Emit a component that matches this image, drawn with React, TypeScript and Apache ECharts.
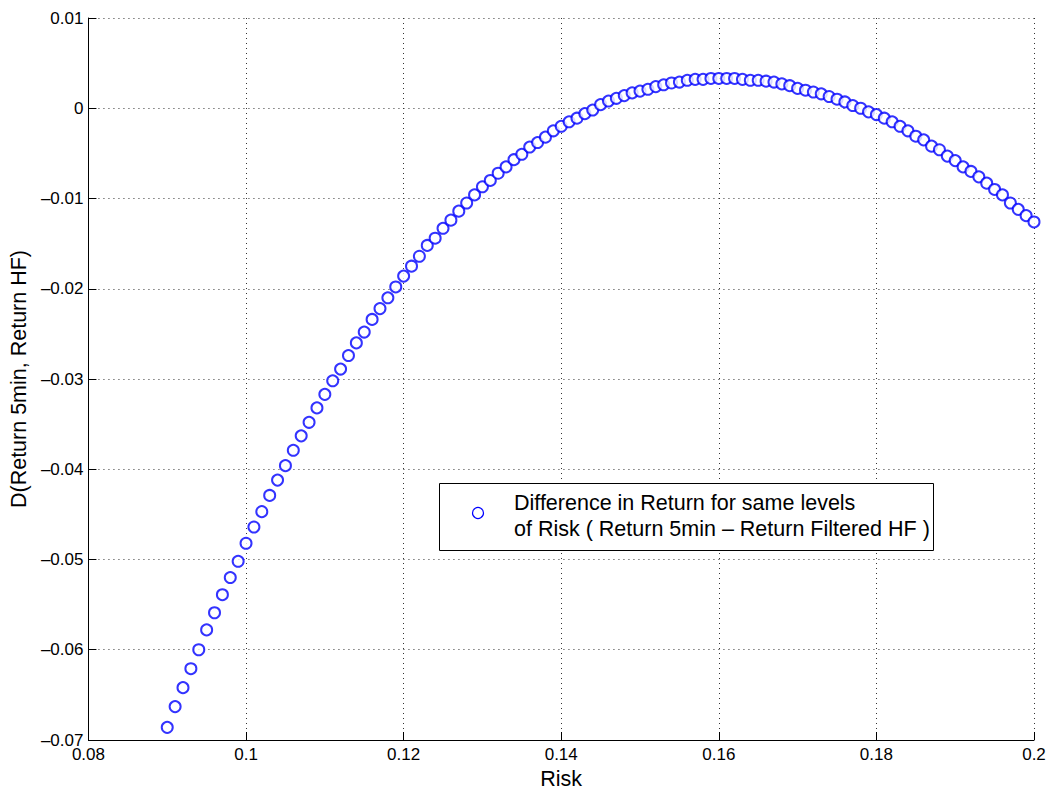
import React, { useEffect, useRef } from "react";
import * as echarts from "echarts";

const riskValues: number[] = [
  0.090, 0.091, 0.092, 0.093, 0.094, 0.095, 0.096, 0.097, 0.098, 0.099,
  0.100, 0.101, 0.102, 0.103, 0.104, 0.105, 0.106, 0.107, 0.108, 0.109,
  0.110, 0.111, 0.112, 0.113, 0.114, 0.115, 0.116, 0.117, 0.118, 0.119,
  0.120, 0.121, 0.122, 0.123, 0.124, 0.125, 0.126, 0.127, 0.128, 0.129,
  0.130, 0.131, 0.132, 0.133, 0.134, 0.135, 0.136, 0.137, 0.138, 0.139,
  0.140, 0.141, 0.142, 0.143, 0.144, 0.145, 0.146, 0.147, 0.148, 0.149,
  0.150, 0.151, 0.152, 0.153, 0.154, 0.155, 0.156, 0.157, 0.158, 0.159,
  0.160, 0.161, 0.162, 0.163, 0.164, 0.165, 0.166, 0.167, 0.168, 0.169,
  0.170, 0.171, 0.172, 0.173, 0.174, 0.175, 0.176, 0.177, 0.178, 0.179,
  0.180, 0.181, 0.182, 0.183, 0.184, 0.185, 0.186, 0.187, 0.188, 0.189,
  0.190, 0.191, 0.192, 0.193, 0.194, 0.195, 0.196, 0.197, 0.198, 0.199,
  0.200,
];

const diffValues: number[] = [
  -0.0686, -0.0663, -0.0642, -0.0621, -0.0600, -0.0578, -0.0559, -0.0539, -0.0520, -0.0502,
  -0.0482, -0.0464, -0.0447, -0.0429, -0.0412, -0.0396, -0.0379, -0.0363, -0.0348, -0.0332,
  -0.0317, -0.0302, -0.0289, -0.0274, -0.0260, -0.0248, -0.0234, -0.0222, -0.0210, -0.0198,
  -0.0186, -0.0175, -0.0164, -0.0152, -0.0144, -0.0133, -0.0124, -0.0114, -0.0105, -0.0096,
  -0.0087, -0.0080, -0.0072, -0.0065, -0.0057, -0.0051, -0.0043, -0.0038, -0.0032, -0.0025,
  -0.0020, -0.0015, -0.0011, -0.0006, -0.0002, 0.0004, 0.0008, 0.0011, 0.0014, 0.0017,
  0.0019, 0.0021, 0.0024, 0.0026, 0.0028, 0.0029, 0.0031, 0.0032, 0.0032, 0.0033,
  0.0033, 0.0033, 0.0033, 0.0032, 0.0031, 0.0031, 0.0030, 0.0029, 0.0027, 0.0025,
  0.0022, 0.0020, 0.0018, 0.0016, 0.0013, 0.0010, 0.0007, 0.0003, 0.0000, -0.0004,
  -0.0007, -0.0011, -0.0015, -0.0020, -0.0025, -0.0031, -0.0035, -0.0042, -0.0046, -0.0053,
  -0.0058, -0.0065, -0.0070, -0.0076, -0.0083, -0.0090, -0.0096, -0.0105, -0.0112, -0.0119,
  -0.0126,
];

const legendLines: string[] = [
  "Difference in Return for same levels",
  "of Risk ( Return 5min \u2013 Return Filtered HF )",
];

const xAxisTitle = "Risk";
const yAxisTitle = "D(Return 5min, Return HF)";

const FONT = "'Liberation Sans', Arial, Helvetica, sans-serif";
const TITLE_SIZE = 21.5;

function fmt(v: number): string {
  const s = String(Number(v.toFixed(4)));
  return s.replace("-", "\u2013");
}

export default function App() {
  const ref = useRef<HTMLDivElement>(null);

  useEffect(() => {
    if (!ref.current) return;
    const chart = echarts.init(ref.current, undefined, { renderer: "svg" });
    const data = riskValues.map((x, i) => [x, diffValues[i]]);
    const gridLine = {
      show: true,
      lineStyle: { color: "#333", width: 1, type: [1, 4] as number[] },
    };
    chart.setOption({
      animation: false,
      backgroundColor: "#fff",
      textStyle: { fontFamily: FONT },
      grid: { left: 87, top: 18, right: 18, bottom: 54, containLabel: false },
      xAxis: {
        type: "value",
        min: 0.08,
        max: 0.2,
        interval: 0.02,
        name: xAxisTitle,
        nameLocation: "middle",
        nameGap: 28,
        nameTextStyle: { fontSize: TITLE_SIZE, color: "#000", fontFamily: FONT },
        axisLine: { show: true, onZero: false, lineStyle: { color: "#000", width: 1 } },
        axisTick: { show: true, inside: true, length: 8, lineStyle: { color: "#000" } },
        axisLabel: {
          fontSize: 17,
          color: "#000",
          margin: 6,
          fontFamily: FONT,
          formatter: (v: number) => fmt(v),
        },
        splitLine: gridLine,
      },
      yAxis: {
        type: "value",
        min: -0.07,
        max: 0.01,
        interval: 0.01,
        name: yAxisTitle,
        nameLocation: "middle",
        nameGap: 57,
        nameRotate: 90,
        nameTextStyle: { fontSize: TITLE_SIZE, color: "#000", fontFamily: FONT },
        axisLine: { show: true, onZero: false, lineStyle: { color: "#000", width: 1 } },
        axisTick: { show: true, inside: true, length: 8, lineStyle: { color: "#000" } },
        axisLabel: {
          fontSize: 17,
          color: "#000",
          margin: 5,
          fontFamily: FONT,
          formatter: (v: number) => fmt(v),
        },
        splitLine: gridLine,
      },
      series: [
        {
          name: legendLines.join(" "),
          type: "scatter",
          symbol: "emptyCircle",
          symbolSize: 11,
          itemStyle: { color: "#0000ff", borderColor: "#0000ff", borderWidth: 1.2 },
          data,
        },
      ],
      graphic: [
        {
          type: "rect",
          left: 439,
          top: 483,
          shape: { width: 494, height: 67 },
          style: { fill: "#fff", stroke: "#000", lineWidth: 1 },
          z: 100,
        },
        {
          type: "circle",
          shape: { cx: 478, cy: 513, r: 5.5 },
          style: { fill: "none", stroke: "#0000ff", lineWidth: 1.2 },
          z: 101,
        },
        {
          type: "text",
          x: 514,
          y: 503,
          style: {
            text: legendLines[0],
            font: `${TITLE_SIZE}px ${FONT}`,
            fill: "#000",
            verticalAlign: "middle",
          },
          z: 101,
        },
        {
          type: "text",
          x: 514,
          y: 529,
          style: {
            text: legendLines[1],
            font: `${TITLE_SIZE}px ${FONT}`,
            fill: "#000",
            verticalAlign: "middle",
          },
          z: 101,
        },
      ],
    });
    return () => chart.dispose();
  }, []);

  return (
    <div
      ref={ref}
      style={{ position: "fixed", left: 0, top: 0, width: 1052, height: 795 }}
    />
  );
}
